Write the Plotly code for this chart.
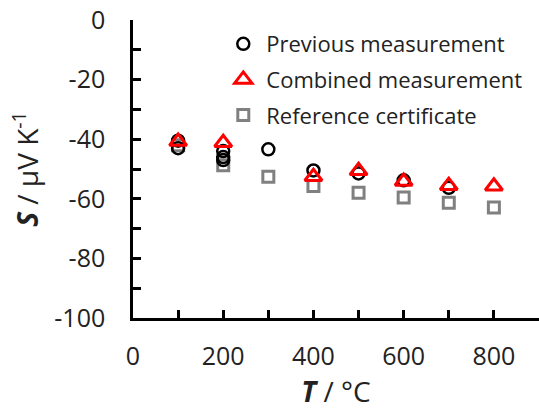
import plotly.graph_objects as go

prev_T = [100, 100, 200, 200, 200, 300, 400, 500, 600, 700]
prev_S = [-40.5, -43.0, -44.0, -46.0, -47.0, -43.4, -50.5, -51.5, -53.8, -56.3]

comb_T = [100, 200, 400, 500, 600, 700, 800]
comb_S = [-40.8, -41.2, -52.6, -50.6, -54.2, -55.6, -55.8]

ref_T = [100, 200, 300, 400, 500, 600, 700, 800]
ref_S = [-42.0, -48.7, -52.6, -55.7, -58.0, -59.6, -61.3, -62.9]

y_ticks = [0, -20, -40, -60, -80, -100]
y_tick_text = ["0", "-20", "-40", "-60", "-80", "-100"]
x_ticks = [0, 200, 400, 600, 800]

FONT = "Open Sans"

fig = go.Figure()
fig.add_trace(go.Scatter(
    x=ref_T, y=ref_S, mode="markers", name="Reference certificate",
    legendgroup="c", legendrank=3,
    marker=dict(symbol="square-open", size=11, color="#808080", line=dict(width=3, color="#808080"))))
fig.add_trace(go.Scatter(
    x=prev_T, y=prev_S, mode="markers", name="Previous measurement",
    legendgroup="a", legendrank=1,
    marker=dict(symbol="circle-open", size=12, color="black", line=dict(width=2.5, color="black"))))
fig.add_trace(go.Scatter(
    x=comb_T, y=comb_S, mode="markers", name="Combined measurement",
    legendgroup="b", legendrank=2,
    marker=dict(symbol="triangle-up-open", size=15, color="red", line=dict(width=3, color="red"))))

fig.update_layout(
    width=539, height=411,
    margin=dict(l=133, r=0, t=20, b=93),
    paper_bgcolor="white", plot_bgcolor="white",
    font=dict(family=FONT, size=20, color="#222"),
    showlegend=True,
    legend=dict(x=0.215, y=0.99, xanchor="left", yanchor="top",
                font=dict(family=FONT, size=22, color="#222"),
                tracegroupgap=4, bgcolor="rgba(0,0,0,0)",
                itemwidth=36),
    xaxis=dict(range=[0, 900], tickvals=x_ticks, showgrid=False,
               zeroline=False, showline=True, linecolor="black", linewidth=2.5,
               ticks="inside", ticklen=8, tickwidth=2.5, tickcolor="black",
               minor=dict(dtick=100, ticks="inside", ticklen=8, tickwidth=2.5, tickcolor="black"),
               tickfont=dict(size=25), ticklabelstandoff=14,
               title=dict(text="<b><i>T</i></b> / °C", font=dict(size=28), standoff=4)),
    yaxis=dict(range=[-100, 0], tickvals=y_ticks, ticktext=y_tick_text,
               showgrid=False, zeroline=False,
               showline=True, linecolor="black", linewidth=2.5,
               ticks="inside", ticklen=8, tickwidth=2.5, tickcolor="black",
               minor=dict(dtick=10, ticks="inside", ticklen=8, tickwidth=2.5, tickcolor="black"),
               tickfont=dict(size=25), ticklabelstandoff=20,
               title=dict(text="<b><i>S</i></b> / μV K<sup>-1</sup>", font=dict(size=28), standoff=8)),
)

fig.write_html("out.html")
